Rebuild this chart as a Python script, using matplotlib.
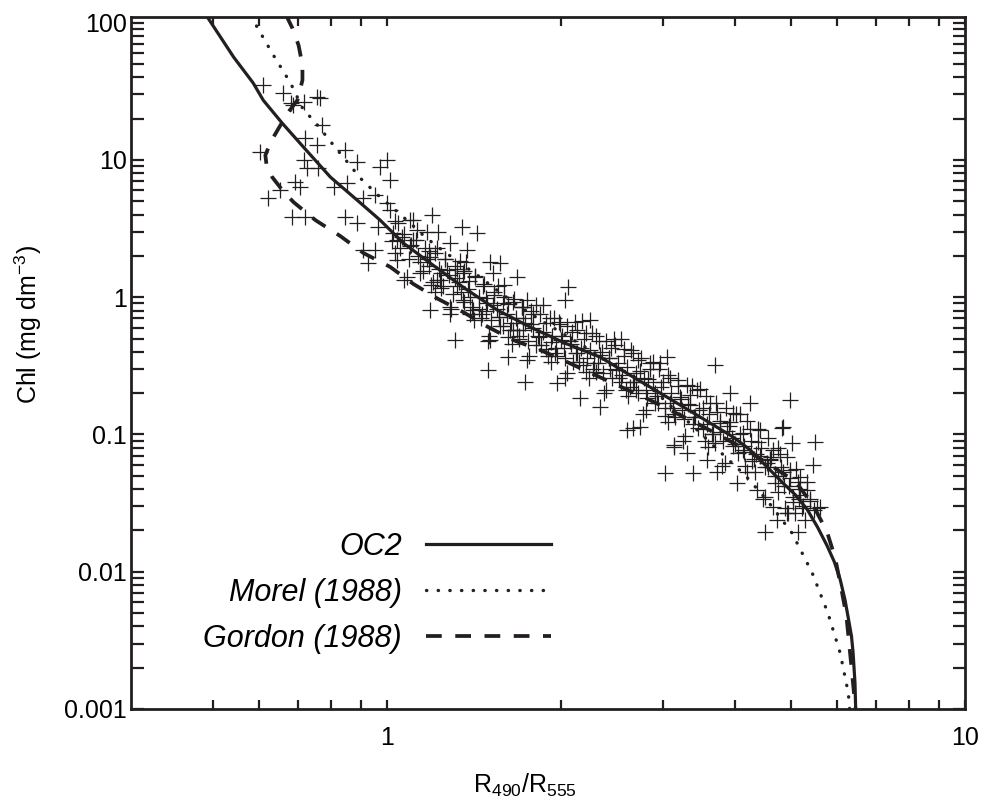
import numpy as np
import matplotlib.pyplot as plt
from matplotlib.ticker import FixedLocator, NullFormatter
from matplotlib.font_manager import FontProperties

plt.rcParams['font.family'] = ['Liberation Sans', 'DejaVu Sans']
plt.rcParams['mathtext.fontset'] = 'custom'
plt.rcParams['mathtext.rm'] = 'Liberation Sans'
plt.rcParams['mathtext.it'] = 'Liberation Sans:italic'

INK = '#231f20'

# curves
OC2_X = [0.488, 0.542, 0.586, 0.610, 0.658, 0.716, 0.797, 0.887, 0.972, 1.066, 1.187,
         1.354, 1.55, 1.768, 2.03, 2.336, 2.665, 3.05, 3.48, 3.97, 4.25, 4.84, 5.08, 5.33,
         5.56, 5.77, 5.94, 6.08, 6.20, 6.28, 6.36, 6.40, 6.45, 6.47]
OC2_Y = [110, 56.1, 36.3, 27.2, 18.5, 12.4, 7.50, 5.09, 3.64, 2.48, 1.77,
         1.18, 0.806, 0.606, 0.463, 0.366, 0.262, 0.187, 0.134, 0.0957, 0.077, 0.0443, 0.0365, 0.0285,
         0.021, 0.0155, 0.0118, 0.0088, 0.0062, 0.0046, 0.0034, 0.0026, 0.00155, 0.00095]

MOREL_X = [0.580, 0.635, 0.680, 0.716, 0.745, 0.807, 0.853, 0.898, 0.972, 1.024, 1.096,
           1.163, 1.245, 1.338, 1.431, 1.632, 1.84, 1.968, 2.336, 2.85, 3.44, 3.66, 4.16,
           4.54, 5.02, 5.44, 5.79, 6.08, 6.28, 6.32]
MOREL_Y = [112, 58.0, 36.3, 23.1, 19.5, 12.8, 9.64, 7.37, 5.35, 4.45, 3.46,
           2.74, 2.20, 1.77, 1.45, 0.953, 0.681, 0.576, 0.372, 0.2214, 0.1076, 0.0837, 0.0506,
           0.0333, 0.0191, 0.00978, 0.00500, 0.00256, 0.00131, 0.00095]

GORDON_X = [0.667, 0.685, 0.702, 0.713, 0.713, 0.699, 0.674, 0.650, 0.628, 0.615, 0.618,
            0.632, 0.658, 0.688, 0.751, 0.829, 0.909, 1.012, 1.109, 1.225, 1.354, 1.495,
            1.652, 1.84, 2.048, 2.29, 2.85, 3.48, 4.25, 5.10, 5.48, 5.77, 5.96, 6.10,
            6.23, 6.30, 6.38, 6.47]
GORDON_Y = [115, 91.2, 68.6, 49.0, 38.1, 27.3, 22.3, 17.3, 13.5, 10.8, 9.17,
            7.50, 6.03, 4.93, 3.64, 2.79, 2.10, 1.66, 1.25, 0.970, 0.778, 0.606,
            0.487, 0.412, 0.337, 0.271, 0.178, 0.117, 0.0745, 0.0450, 0.0296, 0.0195, 0.0126, 0.00774,
            0.00484, 0.00303, 0.00177, 0.00095]

# in situ points (+)
PTS_X = [0.610, 0.661, 0.680, 0.688, 0.716, 0.757, 0.766, 0.772, 0.721, 0.757, 0.603,
         0.716, 0.727, 0.760, 0.693, 0.707, 0.653, 0.622, 0.685, 0.721, 0.846, 0.887,
         1.0, 0.972, 1.012, 0.807, 0.853, 0.909, 0.953, 1.0, 0.846, 0.887, 0.965, 1.024,
         1.109, 1.196, 1.225, 1.348, 1.431, 1.285, 1.375, 0.909, 0.953, 1.041, 0.927,
         1.187, 1.311, 1.507, 1.507, 1.568, 1.679, 1.525, 1.354, 1.409, 1.285, 1.187,
         1.220, 1.587, 1.720, 1.652, 1.747, 1.096, 2.057, 2.03, 2.245, 1.495, 1.733,
         1.619, 1.968, 2.158, 2.336, 2.60, 2.74, 3.05, 3.69, 4.98, 3.13, 4.84, 4.42,
         5.02, 5.50, 5.46, 3.03, 3.38, 3.72, 4.51, 5.14, 4.03, 4.37, 4.65, 5.55, 5.33,
         4.92, 4.73, 4.82, 4.25, 3.92, 2.665, 3.13, 3.30, 3.58, 4.13, 4.60, 5.18, 5.61,
         1.03, 1.05, 1.07, 1.09, 1.11, 1.13, 1.14, 1.16, 1.18, 1.20, 1.21, 1.23, 1.25,
         1.26, 1.28, 1.30, 1.31, 1.33, 1.35, 1.36, 1.38, 1.40, 1.42, 1.44, 1.46, 1.47,
         1.49, 1.51, 1.53, 1.55, 1.57, 1.59, 1.61, 1.63, 1.65, 1.67, 1.69, 1.71, 1.73,
         1.75, 1.77, 1.79, 1.81, 1.84, 1.86, 1.88, 1.91, 1.93, 1.95, 1.98, 2.00, 2.03,
         2.05, 2.08, 2.10, 2.13, 2.16, 2.18, 2.21, 2.24, 2.27, 2.30, 2.33, 2.36, 2.39,
         2.42, 2.45, 2.48, 2.51, 2.54, 2.57, 2.60, 2.63, 2.66, 2.69, 2.72, 2.75, 2.78,
         2.81, 2.85, 2.88, 2.91, 2.95, 2.98, 3.02, 3.06, 3.10, 3.14, 3.18, 3.22, 3.26,
         3.30, 3.34, 3.38, 3.43, 3.47, 3.52, 3.56, 3.61, 3.66, 3.71, 3.76, 3.81, 3.86,
         3.91, 3.96, 4.02, 4.08, 4.14, 4.20, 4.26, 4.32, 4.38, 4.44, 4.50, 4.56, 4.62,
         4.68, 4.74, 4.80, 4.86, 4.92, 4.98, 5.04, 5.10, 5.17, 5.24, 5.32, 5.40, 5.48,
         1.04, 1.10, 1.17, 1.24, 1.32, 1.39, 1.48, 1.56, 1.64, 1.72, 1.82, 1.92, 2.02,
         2.12, 2.22, 2.32, 2.43, 2.55, 2.67, 2.80, 2.93, 3.08, 3.24, 3.40, 3.58, 3.76,
         3.95, 4.15, 4.35, 4.55, 4.75, 4.95, 5.15,
         1.01, 1.03, 1.06, 1.08, 1.12, 1.14, 1.17, 1.19, 1.22, 1.24, 1.27, 1.29, 1.32,
         1.34, 1.37, 1.39, 1.42, 1.45, 1.48, 1.50, 1.53, 1.56, 1.59, 1.62, 1.66, 1.69,
         1.72, 1.76, 1.79, 1.83, 1.86, 1.90, 1.94, 1.97, 2.01, 2.05, 2.09, 2.13, 2.17,
         2.21, 2.26, 2.30, 2.35, 2.39, 2.44, 2.49, 2.54, 2.59, 2.64, 2.69, 2.74, 2.80,
         2.85, 2.91, 2.97, 3.03, 3.09, 3.15, 3.21, 3.28, 3.34, 3.41, 3.48, 3.55, 3.62,
         3.69, 3.76, 3.84, 3.92, 4.00, 4.08, 4.16, 4.24, 4.33, 4.42, 4.51, 4.60, 4.69,
         4.79, 4.88, 4.98, 5.08, 5.18, 5.28, 5.39,
         1.02, 1.045, 1.07, 1.095, 1.125, 1.155, 1.18, 1.21, 1.235, 1.26, 1.285, 1.31,
         1.335, 1.36, 1.385, 1.41, 1.44, 1.465, 1.495, 1.525, 1.555, 1.585, 1.615, 1.645,
         1.68, 1.71, 1.745, 1.775, 1.81, 1.845, 1.88, 1.92, 1.955, 1.99, 2.03, 2.07,
         2.11, 2.15, 2.19, 2.235, 2.28, 2.325, 2.37, 2.415, 2.465, 2.515, 2.565, 2.615,
         2.665, 2.715, 2.77, 2.825, 2.88, 2.94, 3.00, 3.06, 3.12, 3.18, 3.245, 3.31,
         3.375, 3.445, 3.515, 3.585, 3.655, 3.725, 3.80, 3.88, 3.96, 4.04, 4.12, 4.20,
         4.285, 4.375, 4.465, 4.555, 4.645, 4.74, 4.835, 4.93, 5.03, 5.13, 5.23]
PTS_Y = [35.1, 30.7, 25.9, 25.1, 26.4, 28.7, 28.2, 17.9, 14.4, 12.8, 11.4,
         9.97, 8.71, 8.71, 6.89, 6.34, 6.03, 5.27, 3.84, 3.84, 11.8, 9.64,
         9.97, 8.87, 7.13, 6.34, 6.78, 5.27, 5.55, 4.85, 3.84, 3.47, 3.24, 2.93,
         3.65, 3.96, 2.98, 3.24, 2.93, 2.48, 2.20, 2.20, 2.20, 1.86, 1.77,
         0.805, 0.488, 0.488, 1.80, 1.77, 1.40, 1.50, 1.50, 0.805, 0.847, 1.96,
         1.33, 0.906, 0.847, 0.576, 0.953, 3.65, 1.19, 0.953, 0.681, 0.294, 0.241,
         0.366, 0.237, 0.184, 0.158, 0.108, 0.113, 0.366, 0.321, 0.178, 0.0837, 0.113, 0.108,
         0.0865, 0.0881, 0.0599, 0.0524, 0.0524, 0.0532, 0.0195, 0.0195, 0.0443, 0.0394, 0.0296, 0.0291, 0.0394,
         0.0268, 0.0238, 0.111, 0.169, 0.200, 0.111, 0.0810, 0.0732, 0.0652, 0.0769, 0.0652, 0.0490, 0.0296,
         3.6, 2.3, 2.9, 1.9, 2.6, 2.0, 1.5, 2.3, 1.7, 1.3, 2.1, 1.6, 1.2,
         1.9, 1.45, 1.05, 1.7, 1.3, 0.95, 1.55, 1.15, 0.85, 1.4, 1.0, 0.75, 1.25,
         0.9, 0.68, 1.1, 0.82, 0.62, 1.0, 0.76, 0.58, 0.92, 0.7, 0.52, 0.85, 0.65,
         0.48, 0.8, 0.6, 0.45, 0.75, 0.56, 0.42, 0.7, 0.52, 0.39, 0.66, 0.49, 0.36,
         0.62, 0.46, 0.34, 0.58, 0.43, 0.32, 0.55, 0.41, 0.3, 0.52, 0.38, 0.28, 0.48,
         0.36, 0.26, 0.45, 0.33, 0.24, 0.42, 0.31, 0.22, 0.39, 0.28, 0.2, 0.36, 0.26,
         0.185, 0.33, 0.24, 0.17, 0.3, 0.22, 0.155, 0.27, 0.2, 0.14, 0.25, 0.18, 0.13,
         0.23, 0.165, 0.12, 0.21, 0.15, 0.11, 0.19, 0.14, 0.1, 0.17, 0.125, 0.09, 0.155,
         0.115, 0.082, 0.14, 0.1, 0.074, 0.125, 0.09, 0.066, 0.11, 0.08, 0.058, 0.095, 0.068,
         0.05, 0.08, 0.058, 0.042, 0.068, 0.048, 0.035, 0.056, 0.04, 0.03, 0.045, 0.033, 0.028,
         2.6, 2.4, 1.9, 1.5, 1.2, 1.0, 0.8, 0.72, 0.65, 0.58, 0.52, 0.47, 0.43,
         0.39, 0.36, 0.33, 0.3, 0.27, 0.24, 0.21, 0.19, 0.17, 0.15, 0.135, 0.12, 0.105,
         0.095, 0.083, 0.072, 0.062, 0.05, 0.042, 0.034,
         4.3, 2.1, 2.75, 1.4, 2.6, 1.8, 3.0, 1.23, 2.3, 1.16, 1.57, 0.82, 1.6,
         1.09, 1.8, 0.76, 1.43, 0.71, 0.99, 0.52, 1.04, 0.72, 1.22, 0.51, 0.97, 0.5,
         0.71, 0.37, 0.75, 0.51, 0.88, 0.37, 0.71, 0.37, 0.52, 0.28, 0.56, 0.39, 0.67,
         0.285, 0.55, 0.285, 0.40, 0.21, 0.425, 0.295, 0.50, 0.21, 0.41, 0.21, 0.29, 0.15,
         0.30, 0.20, 0.33, 0.137, 0.26, 0.133, 0.186, 0.097, 0.194, 0.134, 0.214, 0.09, 0.17,
         0.087, 0.121, 0.062, 0.124, 0.085, 0.142, 0.059, 0.109, 0.053, 0.070, 0.035, 0.066, 0.044,
         0.072, 0.029, 0.055, 0.027, 0.036, 0.024, 0.034,
         2.55, 3.45, 1.33, 2.36, 3.1, 1.54, 2.16, 1.09, 1.34, 1.91, 0.76, 1.38,
         1.85, 0.93, 1.31, 0.68, 0.82, 1.21, 0.48, 0.88, 1.2, 0.62, 0.89, 0.46,
         0.58, 0.85, 0.35, 0.64, 0.88, 0.45, 0.65, 0.34, 0.43, 0.64, 0.26, 0.48,
         0.66, 0.34, 0.50, 0.26, 0.33, 0.48, 0.2, 0.36, 0.5, 0.256, 0.37, 0.19,
         0.24, 0.35, 0.14, 0.255, 0.34, 0.17, 0.24, 0.124, 0.155, 0.225, 0.09, 0.166,
         0.227, 0.112, 0.157, 0.081, 0.101, 0.147, 0.059, 0.106, 0.144, 0.073, 0.103, 0.053,
         0.064, 0.088, 0.034, 0.058, 0.077, 0.038, 0.053, 0.027, 0.032, 0.045, 0.029]

LABELS = ['OC2', 'Morel (1988)', 'Gordon (1988)']
X_MAJOR = [1, 10]
X_MAJOR_LABELS = ['1', '10']
X_MINOR = [0.5, 0.6, 0.7, 0.8, 0.9, 2, 3, 4, 5, 6, 7, 8, 9]
Y_MAJOR = [0.001, 0.01, 0.1, 1, 10, 100]
Y_MAJOR_LABELS = ['0.001', '0.01', '0.1', '1', '10', '100']

fig = plt.figure(figsize=(9.81, 8.01), dpi=100)
ax = fig.add_axes([131 / 981, 1 - 709 / 801, 834 / 981, 692 / 801])

ax.plot(PTS_X, PTS_Y, linestyle='none', marker='+', markersize=11,
        markeredgewidth=0.9, color=INK, zorder=2)
l1, = ax.plot(OC2_X, OC2_Y, color=INK, lw=2.3, zorder=3)
l2, = ax.plot(MOREL_X, MOREL_Y, color=INK, lw=2.4, linestyle=(0, (0.1, 3.4)),
              dash_capstyle='round', zorder=3)
l3, = ax.plot(GORDON_X, GORDON_Y, color=INK, lw=2.7, linestyle=(0, (4.2, 3.6)), zorder=3)

ax.set_xscale('log')
ax.set_yscale('log')
ax.set_xlim(0.36, 10)
ax.set_ylim(0.001, 110)

ax.xaxis.set_major_locator(FixedLocator(X_MAJOR))
ax.set_xticklabels(X_MAJOR_LABELS)
ax.xaxis.set_minor_locator(FixedLocator(X_MINOR))
ax.xaxis.set_minor_formatter(NullFormatter())
ax.yaxis.set_major_locator(FixedLocator(Y_MAJOR))
ax.set_yticklabels(Y_MAJOR_LABELS)
y_minor = [m * d for d in [0.001, 0.01, 0.1, 1, 10] for m in range(2, 10)]
ax.yaxis.set_minor_locator(FixedLocator(y_minor))
ax.yaxis.set_minor_formatter(NullFormatter())

ax.tick_params(which='both', direction='in', top=True, right=True, color=INK, width=1.6)
ax.tick_params(axis='y', which='both', length=9, labelsize=18, pad=3)
ax.tick_params(axis='x', which='both', length=6.5, labelsize=18, pad=12)
for s in ax.spines.values():
    s.set_linewidth(2)
    s.set_color(INK)

fig.text(28 / 981, 1 - 325 / 801, 'Chl (mg dm$^{\\mathregular{-3}}$)', rotation=90,
         ha='center', va='center', fontsize=18)
fig.text(525 / 981, 1 - 785 / 801, '$\\mathregular{R_{490}/R_{555}}$',
         ha='center', va='center', fontsize=18)

ax.legend([l1, l2, l3], LABELS, loc='lower right', bbox_to_anchor=(0.504, 0.080),
          frameon=False, markerfirst=False, handlelength=4.1, handletextpad=0.8,
          labelspacing=0.52, borderpad=0, borderaxespad=0,
          prop=FontProperties(family='Liberation Sans', style='italic', size=22))

fig.savefig('out.png', dpi=100)
